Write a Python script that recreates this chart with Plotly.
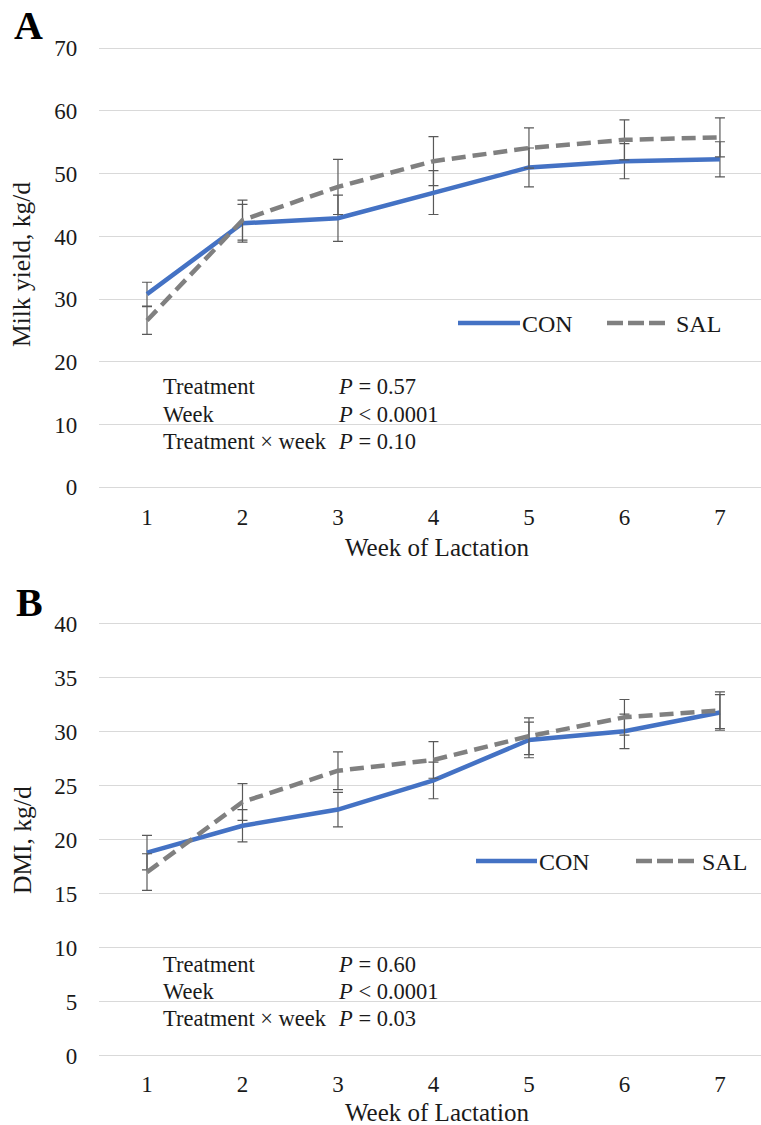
import plotly.graph_objects as go

W, H = 761, 1125

weeks = [1, 2, 3, 4, 5, 6, 7]
week_ticks = ["1", "2", "3", "4", "5", "6", "7"]

# Panel A: milk yield (kg/d)
milk_con = [30.8, 42.1, 42.9, 47.0, 51.0, 52.0, 52.3]
milk_con_se = [1.9, 3.0, 3.7, 3.5, 3.1, 2.8, 2.8]
milk_sal = [26.6, 42.6, 47.9, 52.0, 54.1, 55.4, 55.8]
milk_sal_se = [2.2, 3.2, 4.4, 3.9, 3.2, 3.2, 3.1]

# Panel B: DMI (kg/d)
dmi_con = [18.8, 21.3, 22.8, 25.5, 29.25, 30.05, 31.8]
dmi_con_se = [1.6, 1.5, 1.6, 1.7, 1.65, 1.6, 1.65]
dmi_sal = [17.0, 23.5, 26.4, 27.4, 29.6, 31.35, 32.0]
dmi_sal_se = [1.7, 1.7, 1.75, 1.7, 1.7, 1.65, 1.7]

stats_labels = ["Treatment", "Week", "Treatment \u00d7 week"]
stats_A = ["<i>P</i> = 0.57", "<i>P</i> &lt; 0.0001", "<i>P</i> = 0.10"]
stats_B = ["<i>P</i> = 0.60", "<i>P</i> &lt; 0.0001", "<i>P</i> = 0.03"]

BLUE = "#4472C4"
GRAY = "#808080"
ERR = "#595959"
FONT = "Times New Roman, Liberation Serif, serif"
TXT = "#1a1a1a"

def px_x(p):
    return p / W

def px_y(p):
    return 1 - p / H

fig = go.Figure()

def add_pair(con, con_se, sal, sal_se, xa, ya):
    fig.add_trace(go.Scatter(
        x=weeks, y=con, mode="lines", name="CON", xaxis=xa, yaxis=ya,
        line=dict(color=BLUE, width=4.5),
        error_y=dict(type="data", array=con_se, visible=True, color=ERR, thickness=1.2, width=5),
        showlegend=False))
    fig.add_trace(go.Scatter(
        x=weeks, y=sal, mode="lines", name="SAL", xaxis=xa, yaxis=ya,
        line=dict(color=GRAY, width=4.5, dash="14px,7px"),
        error_y=dict(type="data", array=sal_se, visible=True, color=ERR, thickness=1.2, width=5),
        showlegend=False))

add_pair(milk_con, milk_con_se, milk_sal, milk_sal_se, "x", "y")
add_pair(dmi_con, dmi_con_se, dmi_sal, dmi_sal_se, "x2", "y2")

xdom = [99.25 / W, 1.0]
xcommon = dict(range=[0.5, 7.43], tickmode="array", tickvals=weeks, ticktext=week_ticks,
               showgrid=False, zeroline=False, showline=False, ticks="", automargin=False,
               tickfont=dict(family=FONT, size=23, color=TXT), ticklabelstandoff=7,
               domain=xdom)
ycommon = dict(showgrid=True, gridcolor="#d9d9d9", gridwidth=1, zeroline=False, automargin=False,
               showline=False, ticks="", tickfont=dict(family=FONT, size=23, color=TXT),
               ticklabelstandoff=21)

# Panel A y: 0 at 487.3px, 70 at 48.3px ; Panel B y: 0 at 1055.5px, 40 at 624px
domA = [1 - 493.6 / H, 1 - 42.0 / H]
domB = [1 - 1060.9 / H, 1 - 618.6 / H]

fig.update_layout(
    width=W, height=H, showlegend=False,
    margin=dict(l=0, r=0, t=0, b=0, pad=0, autoexpand=False),
    paper_bgcolor="white", plot_bgcolor="white",
    xaxis=dict(**xcommon, anchor="y"),
    yaxis=dict(**ycommon, range=[-1, 71], tickvals=[0, 10, 20, 30, 40, 50, 60, 70],
               domain=domA, anchor="x"),
    xaxis2=dict(**xcommon, anchor="y2"),
    yaxis2=dict(**ycommon, range=[-0.5, 40.5], tickvals=[0, 5, 10, 15, 20, 25, 30, 35, 40],
                domain=domB, anchor="x2"),
)

ann = []
def text(x, y, s, size=22, xanchor="left", bold=False, angle=0):
    ann.append(dict(x=px_x(x), y=px_y(y), xref="paper", yref="paper", text=("<b>%s</b>" % s) if bold else s,
                    showarrow=False, xanchor=xanchor, yanchor="middle", textangle=angle,
                    font=dict(family=FONT, size=size, color=TXT if not bold else "black")))

# panel letters
text(28, 26, "A", size=40, xanchor="center", bold=True)
text(29, 602, "B", size=40, xanchor="center", bold=True)

# axis titles
text(22, 265, "Milk yield, kg/d", size=25.5, xanchor="center", angle=-90)
text(22, 840, "DMI, kg/d", size=25.5, xanchor="center", angle=-90)
text(437, 548, "Week of Lactation", size=25, xanchor="center")
text(437, 1112, "Week of Lactation", size=25, xanchor="center")

# stats text
for lab, st, yy in zip(stats_labels, stats_A, [386.7, 415, 441]):
    text(161, yy, lab, size=22.5)
    text(336, yy, st, size=22.5)
for lab, st, yy in zip(stats_labels, stats_B, [964.3, 991.7, 1018.3]):
    text(161, yy, lab, size=22.5)
    text(336, yy, st, size=22.5)

# legends
shapes = []
def legend(y, bx0, bx1, conx, gx0, gx1, salx):
    shapes.append(dict(type="line", xref="paper", yref="paper", x0=px_x(bx0), x1=px_x(bx1),
                       y0=px_y(y), y1=px_y(y), line=dict(color=BLUE, width=4.5)))
    shapes.append(dict(type="line", xref="paper", yref="paper", x0=px_x(gx0), x1=px_x(gx1),
                       y0=px_y(y), y1=px_y(y), line=dict(color=GRAY, width=4.5, dash="16px,5px")))
    text(conx, y + 1, "CON", size=24)
    text(salx, y + 1, "SAL", size=24)

legend(323, 458, 520, 520, 607, 666, 674)
legend(861, 476, 537, 537, 636, 695, 700)

fig.update_layout(annotations=ann, shapes=shapes)

fig.write_html("out.html")
